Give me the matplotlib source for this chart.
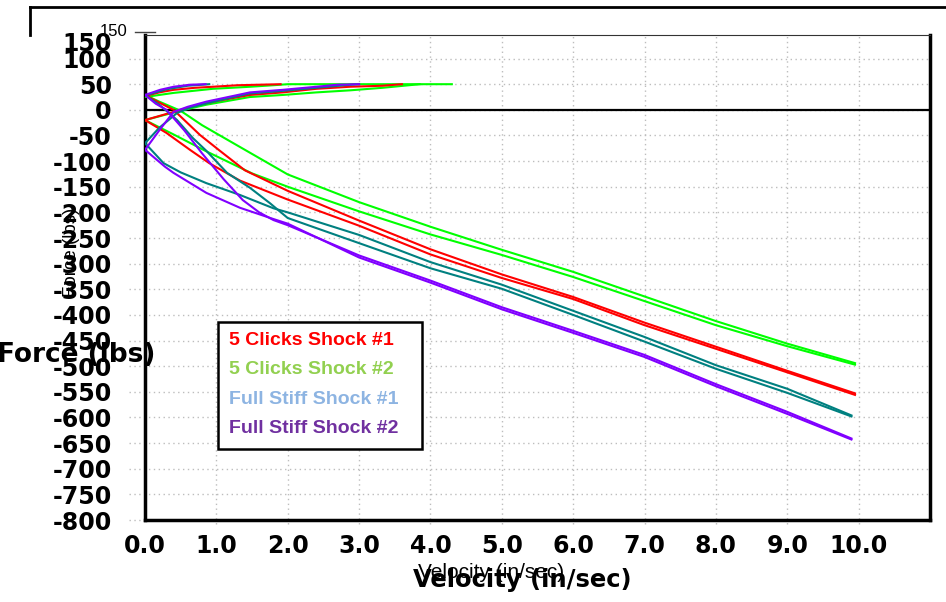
import matplotlib
matplotlib.use("Agg")
import matplotlib.pyplot as plt
from matplotlib.patches import Rectangle
from matplotlib.lines import Line2D

plt.rcParams["axes.unicode_minus"] = False

# ---- data: (velocity in/sec, force lbs) ----
# 5 Clicks Shock #1 (red)
red_top_v = [0, 0.2, 0.4, 0.7, 0.95, 1.3, 1.9]
red_top_f = [27, 34, 39, 43, 45, 48, 50]
red_rise_v = [0, 0.25, 0.5, 0.7, 1.0, 1.47, 1.93, 2.4, 2.87, 3.33, 3.6]
red_rise_f = [-20, -10, 0, 8, 17, 29, 34, 41, 45, 47, 50]
red_a_v = [0, 0.2, 0.4, 0.77, 1.05, 1.4, 2, 3, 4, 5, 6, 7, 8, 9, 9.95]
red_a_f = [29, 14, 0, -49, -80, -118, -158, -216, -272, -321, -365, -415, -462, -509, -553]
red_b_v = [0, 0.3, 0.63, 0.9, 1.33, 2, 3, 4, 5, 6, 7, 8, 9, 9.95]
red_b_f = [-20, -45, -78, -104, -138, -175, -226, -282, -328, -369, -420, -466, -512, -556]

# 5 Clicks Shock #2 (green)
grn_top_v = [0, 0.2, 0.4, 0.95, 1.47, 1.8, 2.0, 4.3]
grn_top_f = [25, 29, 33, 41, 45, 48, 50, 50]
grn_rise_v = [0, 0.3, 0.55, 0.86, 1.47, 1.93, 2.4, 2.87, 3.33, 3.85]
grn_rise_f = [-20, -9, 0, 10, 25, 29, 34, 38, 43, 50]
grn_a_v = [0, 0.2, 0.5, 0.8, 1.4, 2, 3, 4, 5, 6, 7, 8, 9, 9.95]
grn_a_f = [29, 16, -2, -30, -78, -126, -180, -228, -273, -316, -364, -412, -456, -494]
grn_b_v = [0, 0.4, 0.86, 1.5, 2, 3, 4, 5, 6, 7, 8, 9, 9.95]
grn_b_f = [-20, -48, -81, -124, -150, -198, -243, -283, -326, -373, -420, -461, -497]

# Full Stiff Shock #1 (teal)
tea_top_v = [0, 0.3, 0.6, 0.9]
tea_top_f = [28, 40, 47, 50]
tea_rise_v = [0, 0.2, 0.45, 0.65, 0.9, 1.47, 1.93, 2.4, 2.8, 3.0]
tea_rise_f = [-65, -35, -6, 5, 14, 32, 37, 43, 48, 50]
tea_a_v = [0, 0.2, 0.45, 0.67, 0.86, 1.15, 1.47, 1.75, 2, 3, 4, 5, 6, 7, 8, 9, 9.9]
tea_a_f = [29, 10, -20, -55, -80, -123, -152, -182, -211, -260, -309, -349, -400, -452, -505, -552, -598]
tea_b_v = [0, 0.26, 0.5, 0.86, 1.33, 1.8, 2, 3, 4, 5, 6, 7, 8, 9, 9.9]
tea_b_f = [-65, -104, -122, -143, -166, -192, -200, -244, -297, -341, -392, -443, -498, -544, -596]

# Full Stiff Shock #2 (purple)
pur_top_v = [0, 0.21, 0.4, 0.63, 0.85]
pur_top_f = [29, 39, 45, 49, 50]
pur_rise_v = [0, 0.2, 0.4, 0.6, 0.86, 1.47, 1.93, 2.4, 2.7, 3.0]
pur_rise_f = [-78, -40, -4, 6, 16, 34, 39, 45, 49, 50]
pur_a_v = [0, 0.15, 0.3, 0.55, 0.8, 1.1, 1.37, 1.6, 1.8, 2, 3, 4, 5, 6, 7, 8, 9, 9.9]
pur_a_f = [29, 12, 0, -40, -85, -135, -176, -200, -215, -225, -284, -333, -385, -431, -478, -535, -589, -641]
pur_b_v = [0, 0.28, 0.4, 0.86, 1.33, 1.8, 2, 3, 4, 5, 6, 7, 8, 9, 9.9]
pur_b_f = [-78, -111, -123, -162, -191, -213, -222, -288, -337, -389, -435, -482, -539, -593, -643]

legend_labels = ["5 Clicks Shock #1", "5 Clicks Shock #2", "Full Stiff Shock #1", "Full Stiff Shock #2"]
legend_colors = ["#FF0000", "#92D050", "#8DB4E2", "#7030A0"]

x_ticks = [0, 1, 2, 3, 4, 5, 6, 7, 8, 9, 10]
y_ticks = list(range(-800, 101, 50))

# ---- figure ----
fig = plt.figure(figsize=(9.46, 6.02), dpi=100)
ax = fig.add_axes([0.1533, 0.1362, 0.8297, 0.8057])

series = [
    ("#00FF00", [(grn_top_v, grn_top_f), (grn_rise_v, grn_rise_f), (grn_a_v, grn_a_f), (grn_b_v, grn_b_f)]),
    ("#FF0000", [(red_top_v, red_top_f), (red_rise_v, red_rise_f), (red_a_v, red_a_f), (red_b_v, red_b_f)]),
    ("#008080", [(tea_top_v, tea_top_f), (tea_rise_v, tea_rise_f), (tea_a_v, tea_a_f), (tea_b_v, tea_b_f)]),
    ("#8000FF", [(pur_top_v, pur_top_f), (pur_rise_v, pur_rise_f), (pur_a_v, pur_a_f), (pur_b_v, pur_b_f)]),
]
for color, curves in series:
    for v, f in curves:
        ax.plot(v, f, color=color, lw=1.5, zorder=3)

ax.set_xlim(0, 11)
ax.set_ylim(-800, 146)

# dotted grid (runs a little outside the axes on the left)
grid_kw = dict(color="#BDBDBD", lw=1, linestyle=(0, (1, 2.5)))
ax.hlines(y_ticks, -0.22, 11, clip_on=False, zorder=1, **grid_kw)
ax.vlines(x_ticks[1:], -808, 146, clip_on=False, zorder=1, **grid_kw)
ax.axhline(0, color="black", lw=1.6, zorder=2)

ax.set_xticks(x_ticks)
ax.set_xticklabels([f"{t:.1f}" for t in x_ticks])
ax.set_yticks(y_ticks)
ax.tick_params(length=0, labelsize=17)
ax.tick_params(axis="y", pad=24)
ax.tick_params(axis="x", pad=10)
for lab in ax.get_xticklabels() + ax.get_yticklabels():
    lab.set_fontweight("bold")

for side in ["left", "bottom", "right"]:
    ax.spines[side].set_linewidth(2.5)
ax.spines["top"].set_linewidth(0.8)
ax.spines["top"].set_color("#333333")

# stray "150" label overlapping "100"
ax.text(-0.46, 129, "150", ha="right", va="center", fontsize=17, fontweight="bold")

# axis titles (doubled, as in the original export)
fig.text(0.1638, 0.4103, "Force (lbs)", ha="right", va="center", fontsize=19, fontweight="bold")
fig.text(0.0761, 0.58, "Force (lbs)", rotation=90, ha="center", va="center",
         fontsize=13.5, family="Liberation Sans")
fig.text(0.519, 0.0498, "Velocity (in/sec)", ha="center", va="center",
         fontsize=15, family="Liberation Sans")
fig.text(0.552, 0.0365, "Velocity (in/sec)", ha="center", va="center",
         fontsize=17.5, fontweight="bold")

# ghost frame and label at the top
fig.add_artist(Line2D([0.0317, 1.0], [0.9884, 0.9884], color="black", lw=2))
fig.add_artist(Line2D([0.0317, 0.0317], [0.9884, 0.9419], color="black", lw=2))
fig.text(0.1353, 0.9485, "150", ha="right", va="center", fontsize=12, family="Liberation Sans")
fig.add_artist(Line2D([0.1427, 0.1638], [0.9468, 0.9468], color="#444444", lw=1))

# text-box legend
fig.add_artist(Rectangle((0.2304, 0.2542), 0.2156, 0.211, facecolor="white",
                         edgecolor="black", lw=1.8, zorder=5))
for lab, col, y in zip(legend_labels, legend_colors, [0.4352, 0.3854, 0.3372, 0.2874]):
    fig.text(0.242, y, lab, color=col, ha="left", va="center", fontsize=14,
             fontweight="bold", family="Liberation Sans", zorder=6)

fig.savefig("out.png", dpi=100)
